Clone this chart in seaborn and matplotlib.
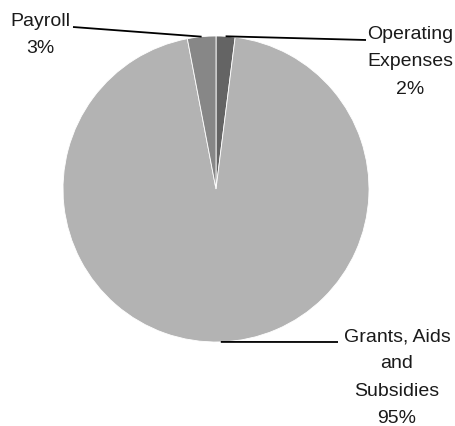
import numpy as np
import matplotlib
matplotlib.use('Agg')
import matplotlib.pyplot as plt
import seaborn as sns

# chart data
categories = ['Operating\nExpenses', 'Grants, Aids\nand\nSubsidies', 'Payroll']
shares = [2, 95, 3]
colors = ['#646464', '#b3b3b3', '#878787']

sns.set_style('white')
plt.rcParams['font.family'] = ['Liberation Sans Narrow', 'Liberation Sans', 'DejaVu Sans']

W, H = 456, 426
fig = plt.figure(figsize=(W / 100, H / 100), dpi=100)
ax = fig.add_axes([0, 0, 1, 1])

cx, cy, r = 216, H - 189, 153
wedges, _ = ax.pie(shares, colors=colors, startangle=90, counterclock=False,
                   center=(cx, cy), radius=r, frame=True,
                   wedgeprops=dict(edgecolor='white', linewidth=0.6))
ax.set_xlim(0, W)
ax.set_ylim(0, H)
ax.set_aspect('equal')
ax.axis('off')

# leader line end points and label centres (pixel layout, y from top)
line_ends = [(366, 40), (338, 342), (73, 27)]
label_pos = [(410, 26), (397, 328), (40, 13)]

for w, cat, val, (lx, ly), (tx, ty) in zip(wedges, categories, shares, line_ends, label_pos):
    ang = np.deg2rad((w.theta1 + w.theta2) / 2)
    ax_x = cx + r * np.cos(ang)
    ax_y = cy + r * np.sin(ang)
    ax.plot([ax_x, lx], [ax_y, H - ly], color='black', lw=1.3, solid_capstyle='butt')
    ax.text(tx, H - ty, f'{cat}\n{val}%', ha='center', va='top', fontsize=14,
            linespacing=1.8, color='#1a1a1a')

fig.savefig('out.png', dpi=100)
